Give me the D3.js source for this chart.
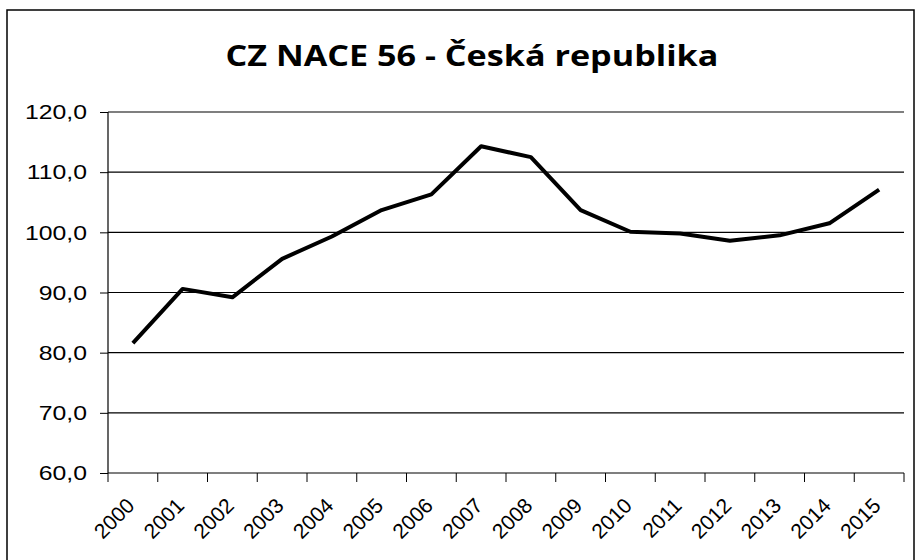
<!DOCTYPE html>
<meta charset="utf-8">
<style>
body { margin: 0; background: #fff; }
svg { display: block; font-family: Lato, "Open Sans", sans-serif; }
.axis path { display: none; }
.axis text { fill: #000; }
</style>
<body>
<svg id="vis" width="918" height="560"></svg>
<script src="https://d3js.org/d3.v7.min.js"></script>
<script>
var years = ["2000","2001","2002","2003","2004","2005","2006","2007",
             "2008","2009","2010","2011","2012","2013","2014","2015"];
var values = [81.6, 90.6, 89.2, 95.6, 99.3, 103.7, 106.3, 114.3,
              112.5, 103.7, 100.1, 99.8, 98.6, 99.5, 101.5, 107.1];
var yTicks = [60, 70, 80, 90, 100, 110, 120];
var title = "CZ NACE 56 - Česká republika";

var svg = d3.select("#vis"),
    margin = {top: 112, right: 14, bottom: 87, left: 108},
    width = +svg.attr("width") - margin.left - margin.right,
    height = +svg.attr("height") - margin.top - margin.bottom;

// outer chart frame
svg.append("rect")
    .attr("x", 7).attr("y", 10)
    .attr("width", 907).attr("height", 560)
    .attr("fill", "none")
    .attr("stroke", "#000")
    .attr("stroke-width", 1.5);

// the source picture is a bit stretched sideways, so the text is too
svg.append("text")
    .attr("transform", "translate(472,66) scale(1.22,1)")
    .attr("text-anchor", "middle")
    .style("font-family", "'Open Sans', sans-serif")
    .style("font-size", "28px")
    .style("font-weight", "bold")
    .text(title);

var x = d3.scaleBand().domain(years).range([0, width]),
    y = d3.scaleLinear().domain([60, 120]).range([height, 0]);

var g = svg.append("g")
    .attr("transform", "translate(" + margin.left + "," + margin.top + ")");

// horizontal gridlines
g.selectAll(".grid").data(yTicks.slice(1)).enter().append("line")
    .attr("class", "grid")
    .attr("x1", 0).attr("x2", width)
    .attr("y1", function(d) { return y(d); })
    .attr("y2", function(d) { return y(d); })
    .attr("stroke", "#000")
    .attr("stroke-width", 1.2);

var yaxis = g.append("g")
    .attr("class", "axis axis--y")
    .call(d3.axisLeft(y).tickValues(yTicks).tickSize(8)
      .tickFormat(function(d) { return d3.format(".1f")(d).replace(".", ","); }));
yaxis.selectAll("text")
    .style("font-size", "21px")
    .attr("x", -21 / 1.18)
    .attr("transform", "scale(1.18,1)");
yaxis.selectAll("line").attr("stroke", "#000");

// category boundary ticks on the x axis
var bounds = years.map(function(d) { return x(d); }).concat([width]);
g.selectAll(".xtick").data(bounds).enter().append("line")
    .attr("class", "xtick")
    .attr("x1", function(d) { return d; })
    .attr("x2", function(d) { return d; })
    .attr("y1", height).attr("y2", height + 9)
    .attr("stroke", "#000");

var xaxis = g.append("g")
    .attr("class", "axis axis--x")
    .attr("transform", "translate(0," + height + ")")
    .call(d3.axisBottom(x).tickSize(0).tickPadding(0));
xaxis.selectAll("text")
    .style("font-size", "21px")
    .style("text-anchor", "end")
    .attr("dy", 0)
    .attr("transform", "translate(3,34) rotate(-45)");

// axis lines
g.append("line").attr("x1", 0).attr("x2", width)
    .attr("y1", height).attr("y2", height)
    .attr("stroke", "#000").attr("stroke-width", 1.2);
g.append("line").attr("x1", 0).attr("x2", 0)
    .attr("y1", 0).attr("y2", height)
    .attr("stroke", "#000").attr("stroke-width", 1.2);

var line = d3.line()
    .x(function(d, i) { return x(years[i]) + x.bandwidth() / 2; })
    .y(function(d) { return y(d); });

g.append("path")
    .datum(values)
    .attr("d", line)
    .attr("fill", "none")
    .attr("stroke", "#000")
    .attr("stroke-width", 4)
    .attr("stroke-linejoin", "round");
</script>
</body>
